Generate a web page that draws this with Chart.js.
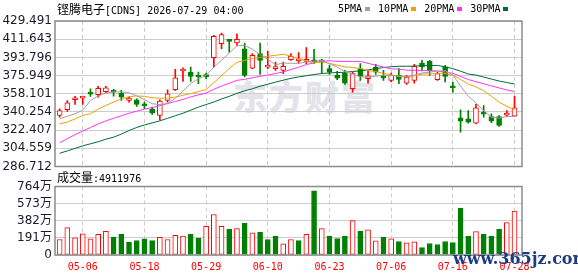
<!DOCTYPE html>
<html>
<head>
<meta charset="utf-8">
<script src="https://cdn.jsdelivr.net/npm/chart.js@4.4.1/dist/chart.umd.min.js"></script>
<style>
  html, body { margin: 0; padding: 0; background: #fff; }
  #wrap { position: relative; width: 578px; height: 276px; overflow: hidden;
          font-family: "DejaVu Sans Mono", "Noto Sans CJK SC", monospace; }
  canvas { position: absolute; left: 0; top: 0; z-index: 2; }
  .txt { position: absolute; font-size: 10px; line-height: 12px; color: #000; white-space: nowrap; z-index: 3; }
  .cjk { font-family: "Noto Sans CJK SC"; font-size: 12px; }
  .sw { display: inline-block; width: 5px; height: 4px; margin: 0 8px 1px 3px; vertical-align: middle; }
  #mark { position: absolute; left: 233px; top: 79px; font-family: "Noto Sans CJK SC"; font-weight: 900;
          font-size: 34px; line-height: 34px; letter-spacing: 2px; color: #e3e3e9; z-index: 1; }
  #site { position: absolute; left: 453px; top: 249px; font-family: "DejaVu Serif", serif; font-size: 16px;
          font-weight: bold; color: #1c3c82; z-index: 4; }
</style>
</head>
<body>
<div id="wrap">
  <div class="txt" style="left:57px;top:3px"><span class="cjk">铿腾电子</span>[CDNS] 2026-07-29 04:00</div>
  <div class="txt" style="left:338px;top:3px">5PMA<span class="sw" style="background:#a0a0a0"></span>10PMA<span class="sw" style="background:#f0a000"></span>20PMA<span class="sw" style="background:#ff33ff"></span>30PMA<span class="sw" style="background:#006b35"></span></div>
  <div class="txt" style="left:57px;top:171px"><span class="cjk">成交量</span>:4911976</div>
  <div id="mark">东方财富</div>
  <canvas id="price" width="578" height="276"></canvas>
  <canvas id="vol" width="578" height="276"></canvas>
  <div id="site">www.365jz.com</div>
</div>
<script>
// trading days shown (MM-DD)
const dates = ['05-01','05-04','05-05','05-06','05-07','05-08','05-11','05-12','05-13','05-14',
  '05-15','05-18','05-19','05-20','05-21','05-22','05-26','05-27','05-28','05-29',
  '06-01','06-02','06-03','06-04','06-05','06-08','06-09','06-10','06-11','06-12',
  '06-15','06-16','06-17','06-18','06-22','06-23','06-24','06-25','06-26','06-29',
  '06-30','07-01','07-02','07-06','07-07','07-08','07-09','07-10','07-13','07-14',
  '07-15','07-16','07-17','07-20','07-21','07-22','07-23','07-24','07-27','07-28']

const open = [336.8,342.4,352.2,353.8,358.4,357.1,360.1,361.4,358.8,351.5,
  352.2,347.0,343.0,336.8,351.5,362.0,380.4,379.1,375.1,375.3,
  393.5,407.2,410.5,407.9,402.3,383.3,397.4,384.3,382.7,381.0,
  391.5,390.3,389.9,391.5,391.5,382.7,376.1,378.4,363.0,382.7,
  372.8,384.3,374.5,371.2,376.1,368.6,371.2,388.2,390.2,371.9,
  384.5,365.0,334.5,333.5,329.3,339.1,335.8,335.8,337.1,336.2]
const high = [343.4,351.5,355.5,355.5,363.0,365.3,365.3,362.4,361.4,354.8,
  353.2,349.9,345.0,352.2,362.0,382.0,383.6,384.3,379.4,378.4,
  415.4,417.7,411.2,417.0,407.9,397.4,407.9,399.7,389.2,389.2,
  397.4,398.4,403.3,401.7,391.8,386.0,380.0,381.0,379.4,387.6,
  381.0,386.9,381.0,378.4,382.7,376.1,386.9,390.8,390.8,379.4,
  386.0,369.6,342.4,341.7,347.6,346.6,338.5,336.8,341.7,355.8]
const low = [335.2,340.7,347.6,347.6,355.5,354.8,358.8,355.8,351.6,349.9,
  345.7,343.4,337.8,332.5,349.9,361.4,370.2,370.2,367.9,372.8,
  384.3,402.3,399.0,405.6,374.5,382.7,377.1,382.7,381.0,377.8,
  390.8,388.2,387.6,387.6,377.8,377.1,371.9,367.3,359.7,371.2,
  368.6,377.1,371.2,369.6,367.9,367.3,368.6,380.4,376.1,371.2,
  369.6,359.7,320.4,329.3,328.6,335.2,329.6,326.0,335.8,335.8]
const close = [341.7,349.3,353.8,355.1,357.8,363.3,364.0,359.7,354.8,353.8,
  347.6,346.3,339.1,350.9,358.1,373.8,382.3,375.0,374.5,374.9,
  414.4,416.1,409.5,411.5,376.1,395.8,390.8,385.3,384.3,385.0,
  394.8,390.8,391.0,388.6,389.0,379.4,373.5,368.6,377.8,375.1,
  375.6,379.4,373.5,376.1,372.2,374.5,385.0,384.6,380.4,377.8,
  375.0,364.0,331.2,330.3,344.3,338.1,331.2,327.0,338.5,344.3]

const ma5 = [333.5,336.0,338.5,342.0,351.5,355.9,358.8,360.0,359.9,359.1,
  356.0,352.4,348.3,347.5,348.4,353.6,360.8,368.0,372.8,376.1,
  384.2,391.0,397.9,405.2,405.5,401.8,396.7,391.9,386.5,388.2,
  388.0,388.0,389.2,390.0,390.8,387.6,384.3,379.8,377.5,374.8,
  374.1,375.3,376.3,375.9,375.4,375.1,376.3,378.5,379.3,380.4,
  380.7,376.5,365.7,355.7,349.0,341.6,335.0,334.2,335.8,335.8]
const ma10 = [328.6,330.3,333.5,336.8,338.5,343.0,346.6,349.9,353.0,355.3,
  355.9,355.6,354.2,353.7,353.8,354.8,356.6,358.2,360.2,362.2,
  368.9,375.9,382.9,389.0,390.8,392.9,393.7,394.9,395.8,396.9,
  394.9,392.4,390.5,388.3,389.6,387.9,386.2,384.5,383.9,382.9,
  380.9,379.8,378.1,376.7,375.1,374.6,375.7,377.4,377.6,377.9,
  377.9,376.4,372.1,367.6,364.8,361.1,355.7,349.9,345.8,342.6]
const ma20 = [310.0,314.0,318.0,321.5,325.0,328.5,331.5,334.0,336.5,339.0,
  341.0,343.0,344.5,346.5,348.5,350.5,352.5,355.0,357.0,358.7,
  362.4,365.7,368.5,371.3,372.2,373.8,375.2,376.5,377.9,379.5,
  381.9,384.1,386.7,388.6,390.1,390.4,390.0,389.7,389.9,389.9,
  387.9,386.1,384.3,382.5,382.3,381.3,381.0,381.0,380.8,380.4,
  379.4,378.1,375.1,372.1,369.9,367.9,365.8,363.8,361.8,360.3]
const ma30 = [299.7,302.0,304.5,307.0,309.0,311.0,313.5,315.5,318.5,322.0,
  325.0,327.5,329.5,331.5,334.0,336.5,339.0,342.0,345.0,347.5,
  350.0,353.0,355.5,358.5,361.0,363.0,365.5,367.5,369.5,371.4,
  373.2,374.6,375.8,377.0,378.0,378.5,378.9,379.2,379.9,380.6,
  381.5,382.7,383.8,384.6,385.1,385.1,385.2,385.6,385.8,385.9,
  384.5,382.8,380.2,377.5,376.4,374.5,372.5,370.6,369.1,367.7]

// volume in 万 shares
const volume = [173,305,192,237,181,230,263,200,230,143,
  162,181,162,196,173,218,211,230,188,320,
  452,320,286,294,354,248,252,173,211,124,
  173,162,230,715,294,211,184,211,384,263,
  282,158,196,181,151,136,147,83,128,117,
  151,139,523,207,260,230,207,286,361,491.2]

const priceTicks = ['286.712','304.559','322.407','340.254','358.101','375.949','393.796','411.643','429.491']
const volTicks = ['0','191万','382万','573万','764万']
const dateTickIdx = [3, 11, 19, 27, 35, 43, 51, 59]

const RED = '#ff0000'
const GREEN = '#008000'
const GRID = '#cccccc'
const X_MIN = -0.6
const X_MAX = 59.97

const idx = dates.map((d, i) => i)
const up = idx.map(i => close[i] >= open[i])
const volUp = idx.map(i => i === 0 ? up[0] : close[i] >= close[i - 1])

// gray frame round each plot area
const frame = {
  id: 'frame',
  afterDatasetsDraw(chart) {
    const a = chart.chartArea, ctx = chart.ctx
    ctx.save()
    ctx.strokeStyle = '#8c8c8c'
    ctx.lineWidth = 1.5
    ctx.strokeRect(a.left, a.top, a.right - a.left, a.bottom - a.top)
    ctx.restore()
  }
}

const xScale = (showLabels) => ({
  type: 'linear',
  min: X_MIN,
  max: X_MAX,
  offset: false,
  afterBuildTicks: s => { s.ticks = dateTickIdx.map(v => ({ value: v })) },
  afterFit: s => { s.height = showLabels ? 21 : 0 },
  grid: { color: GRID, drawTicks: false, offset: false },
  border: { display: false, dash: [4, 3] },
  ticks: {
    display: showLabels,
    autoSkip: false,
    maxRotation: 0,
    padding: 6,
    color: RED,
    font: { family: 'DejaVu Sans Mono', size: 10 },
    callback: v => dates[v]
  }
})

const line = (vals, color) => ({
  type: 'line',
  data: vals.map((v, i) => ({ x: i, y: v })),
  borderColor: color,
  borderWidth: 1,
  pointRadius: 0,
  tension: 0,
  order: 1
})

new Chart(document.getElementById('price'), {
  type: 'bar',
  data: {
    datasets: [
      {
        data: idx.map(i => ({ x: i, y: [low[i], high[i]] })),
        backgroundColor: up.map(u => u ? RED : GREEN),
        barThickness: 1,
        grouped: false,
        order: 4
      },
      {
        data: idx.map(i => ({ x: i, y: [open[i], close[i]] })),
        backgroundColor: up.map(u => u ? '#ffffff' : GREEN),
        borderColor: up.map(u => u ? RED : GREEN),
        borderWidth: 1,
        borderSkipped: false,
        minBarLength: 2,
        barThickness: 5,
        grouped: false,
        order: 3
      },
      line(ma5, '#a0a0a0'),
      line(ma10, '#f0a000'),
      line(ma20, '#ff33ff'),
      line(ma30, '#006b35')
    ]
  },
  options: {
    responsive: false,
    animation: false,
    layout: { padding: { left: 0, top: 21, right: 56, bottom: 109.5 } },
    plugins: { legend: { display: false }, tooltip: { enabled: false } },
    scales: {
      x: xScale(false),
      y: {
        min: 286.712,
        max: 429.491,
        afterBuildTicks: s => { s.ticks = priceTicks.map(t => ({ value: parseFloat(t) })) },
        afterFit: s => { s.width = 55 },
        grid: { color: GRID, drawTicks: false },
        border: { display: false },
        ticks: {
          autoSkip: false,
          padding: 3,
          color: '#1a1a2a',
          font: { family: 'DejaVu Sans', size: 12 },
          callback: (v, i) => priceTicks[i]
        }
      }
    }
  },
  plugins: [frame]
})

new Chart(document.getElementById('vol'), {
  type: 'bar',
  data: {
    datasets: [{
      data: idx.map(i => ({ x: i, y: volume[i] })),
      backgroundColor: volUp.map(u => u ? '#ffffff' : GREEN),
      borderColor: volUp.map(u => u ? RED : GREEN),
      borderWidth: 1,
      borderSkipped: false,
      barThickness: 5,
      grouped: false
    }]
  },
  options: {
    responsive: false,
    animation: false,
    layout: { padding: { left: 0, top: 186.5, right: 56, bottom: 0 } },
    plugins: { legend: { display: false }, tooltip: { enabled: false } },
    scales: {
      x: xScale(true),
      y: {
        min: 0,
        max: 764,
        afterBuildTicks: s => { s.ticks = volTicks.map(t => ({ value: parseFloat(t) })) },
        afterFit: s => { s.width = 55 },
        grid: { color: GRID, drawTicks: false },
        border: { display: false },
        ticks: {
          autoSkip: false,
          padding: 3,
          color: '#1a1a2a',
          font: { family: 'DejaVu Sans, Noto Sans CJK SC', size: 12 },
          callback: (v, i) => volTicks[i]
        }
      }
    }
  },
  plugins: [frame]
})
</script>
</body>
</html>
